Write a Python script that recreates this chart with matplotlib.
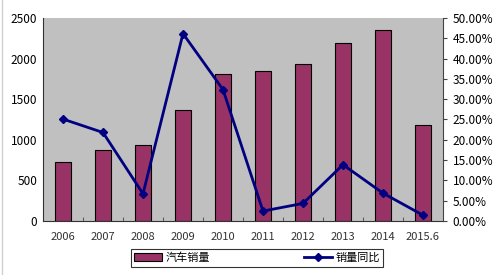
import matplotlib
matplotlib.use("Agg")
import matplotlib.pyplot as plt
from matplotlib.ticker import FuncFormatter, MultipleLocator
import numpy as np

plt.rcParams['font.family'] = ['Noto Sans CJK SC', 'DejaVu Sans']

categories = ['2006', '2007', '2008', '2009', '2010', '2011', '2012', '2013', '2014', '2015.6']
sales = [722, 879, 938, 1364, 1806, 1851, 1931, 2198, 2349, 1185]
yoy = [25.1, 21.8, 6.7, 46.15, 32.37, 2.45, 4.33, 13.87, 6.86, 1.43]
bar_label = '汽车销量'
line_label = '销量同比'

fig = plt.figure(figsize=(4.99, 2.75), dpi=100)
ax = fig.add_axes([43/499, 1-221/275, 400/499, 203/275])
ax.set_facecolor('#C0C0C0')
x = np.arange(len(categories))
bars = ax.bar(x, sales, width=0.4, color='#993366', edgecolor='black', linewidth=0.8, label=bar_label, zorder=2)
ax.set_xlim(-0.5, len(categories) - 0.5)
ax.set_ylim(0, 2500)
ax.yaxis.set_major_locator(MultipleLocator(500))
ax.set_xticks(x)
ax.set_xticklabels(categories, fontsize=8, color='#333333')
ax.tick_params(axis='x', length=0, pad=8)
ax.set_xticks(np.arange(len(categories) + 1) - 0.5, minor=True)
ax.tick_params(axis='x', which='minor', direction='in', length=3, color='#444444')
ax.tick_params(axis='y', labelsize=8.5, length=0, pad=4)
for s in ['top', 'right']:
    ax.spines[s].set_visible(False)
for s in ['left', 'bottom']:
    ax.spines[s].set_color('#333333')
    ax.spines[s].set_linewidth(0.8)

ax2 = ax.twinx()
line, = ax2.plot(x, yoy, color='#000080', linewidth=2, marker='D', markersize=4, label=line_label, zorder=3)
ax2.set_ylim(0, 50)
ax2.yaxis.set_major_locator(MultipleLocator(5))
ax2.yaxis.set_major_formatter(FuncFormatter(lambda v, p: f'{v:.2f}%'))
ax2.tick_params(axis='y', labelsize=8.5, direction='out', length=3, color='#444444', pad=4)
for s in ['top', 'left', 'bottom']:
    ax2.spines[s].set_visible(False)
ax2.spines['right'].set_color('#444444')
ax2.spines['right'].set_linewidth(0.8)

leg = fig.legend([bars, line], [bar_label, line_label], loc='center', bbox_to_anchor=(257/499, 1-258/275),
                 ncol=2, fontsize=8, frameon=True, fancybox=False, edgecolor='black',
                 handlelength=2.5, columnspacing=8.5, borderpad=0.3, handletextpad=0.3,
                 borderaxespad=0)
leg.get_frame().set_linewidth(0.8)

fig.add_artist(plt.Line2D([2/499, 2/499], [0, 1], color='#D0D0D0', linewidth=1, transform=fig.transFigure))

fig.savefig('out.png', dpi=100)
